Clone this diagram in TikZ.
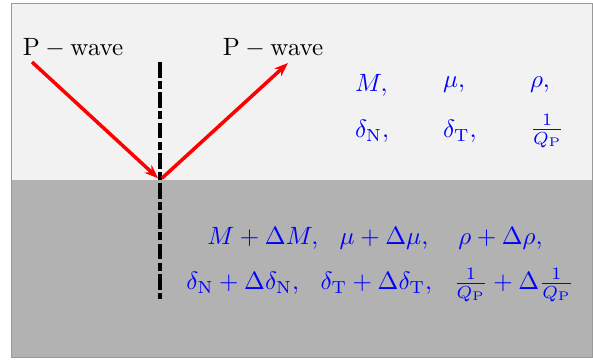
\documentclass[tikz,border=0pt]{standalone}
\usepackage{amsmath}
\usetikzlibrary{arrows.meta}
\colorlet{UpperMed}{gray!10}
\colorlet{LowerMed}{gray!60}
\colorlet{ParamBlue}{blue}

\begin{document}
\begin{tikzpicture}[x=0.4pt, y=-0.4pt,
          ray/.style={-{Stealth[length=5.5pt]}, red, line width=1.4pt},
          normal/.style={line width=1.8pt, dash pattern=on 6.3pt off 1.3pt on 3.2pt off 1.3pt},
          par/.style={font=\fontsize{10.4}{12.5}\selectfont, text=ParamBlue, inner sep=1pt},
          lbl/.style={font=\fontsize{10.4}{12.5}\selectfont, inner sep=1pt}
        ]
        \useasboundingbox (0,0) rectangle (593,360);

        % Media
        \fill[UpperMed] (11,3) rectangle (592,180);
        \fill[LowerMed] (11,180) rectangle (592,357);
        \draw[gray!80] (11,3) rectangle (592,357);

        % Normal to the interface
        \coordinate (ntop) at (160,62);
        \coordinate (nbot) at (160,299);
        \draw[normal] (ntop) -- (nbot);

        % Rays
        \coordinate (hit) at (160,180);
        \coordinate (inc) at (32,62);
        \coordinate (refl) at (288,63);
        \draw[ray, shorten >=1pt] (inc) -- (hit);
        \draw[ray, shorten <=1pt] (hit) -- (refl);

        \node[lbl] (lblinc) at (73,48) {$\mathrm{P-wave}$};
        \node[lbl] (lblrefl) at (273,48) {$\mathrm{P-wave}$};

        % Upper medium parameters
        \foreach \x/\a/\b [count=\i] in {
          352/{M,}/{\delta_{\mathrm{N}},},
          440/{\mu,}/{\delta_{\mathrm{T}},},
          527/{\rho,}/{\frac{1}{Q_{\mathrm{P}}}}
        } {
          \node[par, anchor=west] (up\i) at (\x,85) {$\a$};
          \node[par, anchor=west] (uq\i) at (\x,131) {$\b$};
        }

        % Lower medium parameters
        \node[par] (low1) at (375,238)
              {$M+\Delta M,\ \ \mu+\Delta\mu,\quad\rho+\Delta\rho,$};
        \node[par] (low2) at (380,285)
              {$\delta_{\mathrm{N}}+\Delta\delta_{\mathrm{N}},\ \ \delta_{\mathrm{T}}+\Delta\delta_{\mathrm{T}},\ \ \frac{1}{Q_{\mathrm{P}}}+\Delta\frac{1}{Q_{\mathrm{P}}}$};
      \end{tikzpicture}
\end{document}
